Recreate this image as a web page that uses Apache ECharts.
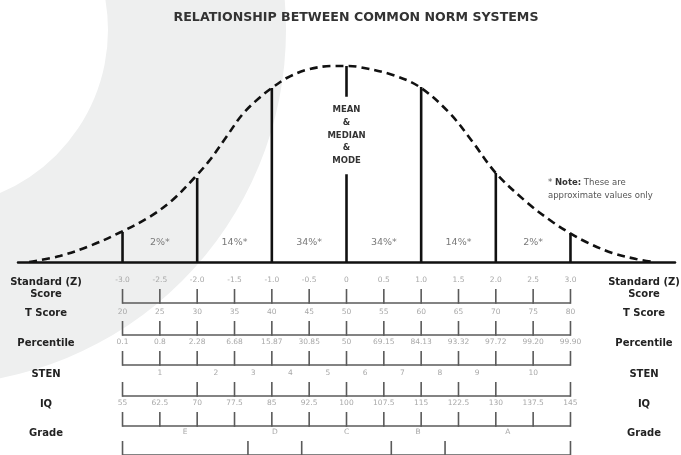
<!DOCTYPE html>
<html><head><meta charset="utf-8">
<script src="https://cdn.jsdelivr.net/npm/echarts@6/dist/echarts.min.js"></script>
<style>html,body{margin:0;padding:0;background:#fff}#c{width:681px;height:455px}</style>
</head><body><div id="c"></div>
<script>
// ---- data ----
const curveZ = [-4.25,-3.84,-3.44,-3.02,-2.64,-2.33,-2.04,-1.83,-1.61,-1.39,-1.17,-1.0,-0.8,-0.54,-0.19,0,0.17,0.62,0.98,1.38,1.69,2.0,2.41,2.76,2.99,3.21,3.56,3.88,4.12];
const curveH = [0,6,16,30,45,62,84,102,125,148,164,174,184,192,196,196,195,187,175,149,120,89,60,40,29,20,9,3,0];
const dividerZ = [-3,-2,-1,0,1,2,3];
const dividerH = [30,84,174,196,175,89,29];
const shareZ = [-2.5,-1.5,-0.5,0.5,1.5,2.5];
const shareText = ['2%*','14%*','34%*','34%*','14%*','2%*'];
const centreText = 'MEAN\n&\nMEDIAN\n&\nMODE';
const zSteps = [-3,-2.5,-2,-1.5,-1,-0.5,0,0.5,1,1.5,2,2.5,3];
const zLabels = ['-3.0','-2.5','-2.0','-1.5','-1.0','-0.5','0','0.5','1.0','1.5','2.0','2.5','3.0'];
const tLabels = ['20','25','30','35','40','45','50','55','60','65','70','75','80'];
const pctLabels = ['0.1','0.8','2.28','6.68','15.87','30.85','50','69.15','84.13','93.32','97.72','99.20','99.90'];
const stenBounds = [-3,-2,-1.5,-1,-0.5,0,0.5,1,1.5,2,3];
const stenPos = [-2.5,-1.75,-1.25,-0.75,-0.25,0.25,0.75,1.25,1.75,2.5];
const stenLabels = ['1','2','3','4','5','6','7','8','9','10'];
const iqLabels = ['55','62.5','70','77.5','85','92.5','100','107.5','115','122.5','130','137.5','145'];
const gradeBounds = [-3,-1.32,-0.6,0.6,1.32,3];
const gradePos = [-2.16,-0.96,0,0.96,2.16];
const gradeLabels = ['E','D','C','B','A'];
const rowNames = ['Standard (Z)\nScore','T Score','Percentile','STEN','IQ','Grade'];

// ---- layout ----
const X_MIN = -4.4, X_MAX = 4.4;
const rowLineY = [303,335,365,396,426,457];
const rows = [
  {ticks: zSteps, pos: zSteps, labels: zLabels},
  {ticks: zSteps, pos: zSteps, labels: tLabels},
  {ticks: zSteps, pos: zSteps, labels: pctLabels},
  {ticks: stenBounds, pos: stenPos, labels: stenLabels},
  {ticks: zSteps, pos: zSteps, labels: iqLabels},
  {ticks: gradeBounds, pos: gradePos, labels: gradeLabels}
];
const rowNameY = [288,313,343,374,404,433];

const grids = [{left:18, right:6, top:62, height:200}];
const xAxes = [{gridIndex:0, type:'value', min:X_MIN, max:X_MAX,
  axisLine:{show:true, onZero:false, lineStyle:{color:'#111', width:2.5}},
  axisTick:{show:false}, axisLabel:{show:false}, splitLine:{show:false}}];
const yAxes = [{gridIndex:0, type:'value', min:0, max:200, show:false}];
rowLineY.forEach((L,i)=>{
  grids.push({left:18, right:6, top:L-30, height:30});
  xAxes.push({gridIndex:i+1, type:'value', min:X_MIN, max:X_MAX, show:false});
  yAxes.push({gridIndex:i+1, type:'value', min:0, max:1, show:false});
});

const series = [];
// curve
series.push({type:'line', xAxisIndex:0, yAxisIndex:0, data: curveZ.map((z,i)=>[z,curveH[i]]),
  smooth:0.35, showSymbol:false, symbol:'none', z:4,
  lineStyle:{color:'#111', width:2.6, type:[8,5]}});
// dividers
series.push({type:'custom', xAxisIndex:0, yAxisIndex:0, z:3,
  data: dividerZ.map((z,i)=>[z,dividerH[i]]),
  renderItem(params, api){
    const b = api.coord([api.value(0),0]);
    const t = api.coord([api.value(0),api.value(1)]);
    return {type:'line', shape:{x1:b[0],y1:b[1],x2:t[0],y2:t[1]}, style:{stroke:'#111', lineWidth:2.6}};
  }});
// share labels
series.push({type:'custom', xAxisIndex:0, yAxisIndex:0, z:5,
  data: shareZ.map(z=>[z,19]),
  renderItem(params, api){
    const p = api.coord([api.value(0),api.value(1)]);
    return {type:'text', x:p[0], y:p[1], style:{text:shareText[params.dataIndex], fill:'#7a7a7a',
      font:'9.5px "DejaVu Sans"', align:'center', verticalAlign:'middle'}};
  }});
// centre text
series.push({type:'custom', xAxisIndex:0, yAxisIndex:0, z:6,
  data: [[0,126.5]],
  renderItem(params, api){
    const p = api.coord([api.value(0),api.value(1)]);
    return {type:'text', x:p[0], y:p[1], style:{text:centreText, fill:'#333',
      font:'bold 8.5px "DejaVu Sans"', lineHeight:12.7, align:'center', verticalAlign:'middle',
      backgroundColor:'#fff', padding:[7,2]}};
  }});
// rows
rows.forEach((r,i)=>{
  const items = [{k:'axis', z:r.ticks[0], z1:r.ticks[r.ticks.length-1]}];
  r.ticks.forEach(z=>items.push({k:'tick', z}));
  r.pos.forEach((z,j)=>items.push({k:'label', z, text:r.labels[j]}));
  series.push({type:'custom', xAxisIndex:i+1, yAxisIndex:i+1, z:3,
    data: items.map(it=>[it.z,0]),
    renderItem(params, api){
      const it = items[params.dataIndex];
      const p = api.coord([it.z,0]);
      if (it.k==='axis'){
        const q = api.coord([it.z1,0]);
        return {type:'line', shape:{x1:p[0],y1:p[1],x2:q[0],y2:q[1]}, style:{stroke:'#5a5a5a', lineWidth:1.6}};
      }
      if (it.k==='tick'){
        return {type:'line', shape:{x1:p[0],y1:p[1]+0.8,x2:p[0],y2:p[1]-14}, style:{stroke:'#5a5a5a', lineWidth:1.6}};
      }
      return {type:'text', x:p[0], y:p[1]-23, style:{text:it.text, fill:'#a8a8a8',
        font:'7.5px "DejaVu Sans"', align:'center', verticalAlign:'middle'}};
    }});
});

const graphic = [
  {type:'ring', shape:{cx:-69, cy:30, r:355, r0:177}, style:{fill:'#eeefef'}, z:-10, silent:true},
  {type:'text', x:356, y:18, z:10, style:{text:'RELATIONSHIP BETWEEN COMMON NORM SYSTEMS', fill:'#333',
    font:'bold 12.6px "DejaVu Sans"', align:'center', verticalAlign:'middle'}},
  {type:'text', x:548, y:183, z:10, style:{text:'* {b|Note:} These are', fill:'#555', font:'8.5px "DejaVu Sans"',
    verticalAlign:'middle', rich:{b:{font:'bold 8.5px "DejaVu Sans"', fill:'#333'}}}},
  {type:'text', x:548, y:196, z:10, style:{text:'approximate values only', fill:'#555', font:'8.5px "DejaVu Sans"',
    verticalAlign:'middle'}}
];
rowNames.forEach((n,i)=>{
  [46,644].forEach(x=>{
    graphic.push({type:'text', x, y:rowNameY[i], z:10, style:{text:n, fill:'#222',
      font:'bold 10px "DejaVu Sans"', lineHeight:12, align:'center', verticalAlign:'middle'}});
  });
});

const chart = echarts.init(document.getElementById('c'), null, {renderer:'canvas'});
chart.setOption({animation:false, backgroundColor:'#fff', grid:grids, xAxis:xAxes, yAxis:yAxes, series, graphic});
</script>
</body></html>
